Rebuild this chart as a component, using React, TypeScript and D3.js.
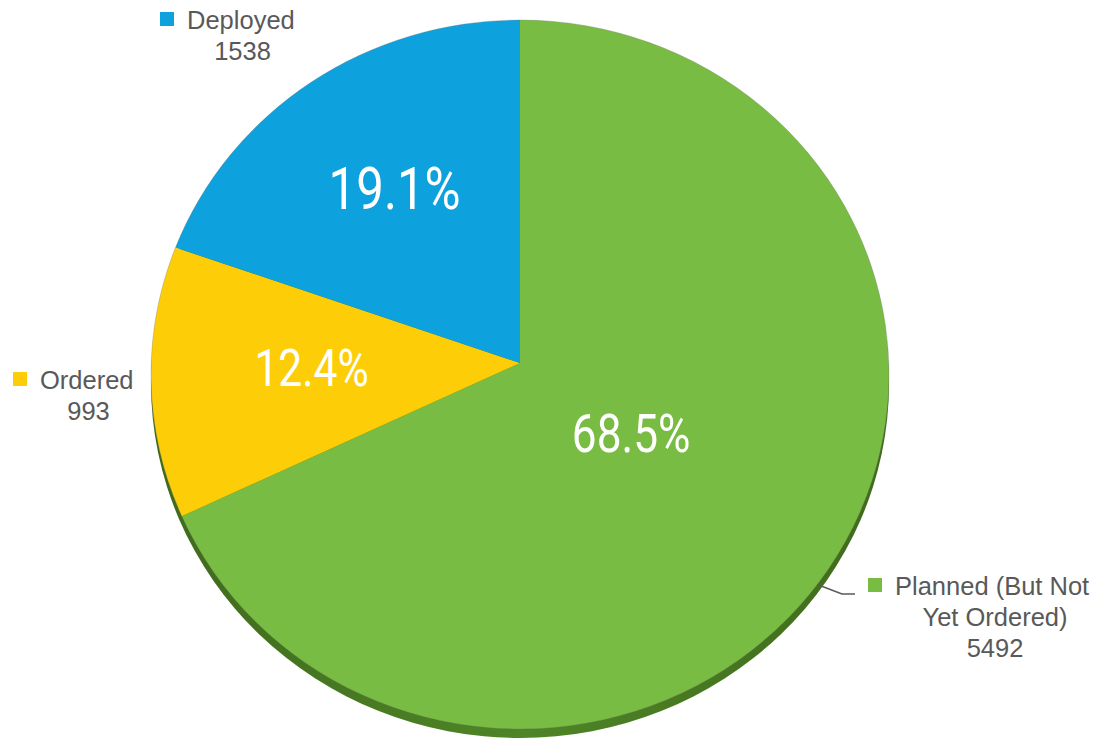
import React from "react";
import * as d3 from "d3";

const categories = ["Planned (But Not Yet Ordered)", "Ordered", "Deployed"];
const labelLines = [["Planned (But Not", "Yet Ordered)"], ["Ordered"], ["Deployed"]];
const counts = [5492, 993, 1538];
const percentLabels = ["68.5%", "12.4%", "19.1%"];
const colors = ["#79BC43", "#FDCD07", "#0DA2DE"];

const W = 1103;
const H = 743;
const apex = { x: 520, y: 363 };
const ell = { cx: 520, cy: 374.5, rx: 369, ry: 354.5 };
const depth = 9;
const labelFrac = [0.36, 0.565, 0.6];
const labelSize = [54, 52, 60];
const legendPos = [
  { x: 868, y: 595 },
  { x: 13, y: 389 },
  { x: 160, y: 29 },
];

function rim(theta: number) {
  return [ell.cx + ell.rx * Math.sin(theta), ell.cy - ell.ry * Math.cos(theta)];
}

export default function App() {
  const pie = d3.pie<number>().sort(null).value((d) => d);
  const arcs = pie(counts);

  const wedge = (a: d3.PieArcDatum<number>) => {
    const [x0, y0] = rim(a.startAngle);
    const [x1, y1] = rim(a.endAngle);
    const large = a.endAngle - a.startAngle > Math.PI ? 1 : 0;
    return `M${apex.x},${apex.y}L${x0},${y0}A${ell.rx},${ell.ry} 0 ${large} 1 ${x1},${y1}Z`;
  };

  const sq = 14;
  const fontLegend = "'Liberation Sans', Arial, sans-serif";
  const fontPct = "Roboto, 'Liberation Sans', sans-serif";

  return (
    <svg width={W} height={H} style={{ position: "absolute", left: 0, top: 0 }}>
      <defs>
        <linearGradient id="side" x1="0" x2="1" y1="0" y2="0">
          <stop offset="0" stopColor="#3f6a1c" />
          <stop offset="0.5" stopColor="#4e8526" />
          <stop offset="1" stopColor="#3f6a1c" />
        </linearGradient>
      </defs>
      <ellipse cx={ell.cx} cy={ell.cy + depth} rx={ell.rx} ry={ell.ry} fill="url(#side)" />
      {arcs.map((a, i) => (
        <path key={categories[i]} d={wedge(a)} fill={colors[i]} />
      ))}
      <ellipse cx={ell.cx} cy={ell.cy} rx={ell.rx} ry={ell.ry} fill="none" stroke="#6b6b6b" strokeOpacity={0.35} strokeWidth={0.8} />
      {arcs.map((a, i) => {
        const m = (a.startAngle + a.endAngle) / 2;
        const x = apex.x + labelFrac[i] * ell.rx * Math.sin(m);
        const y = apex.y - labelFrac[i] * ell.ry * Math.cos(m);
        return (
          <text
            key={"p" + i}
            transform={`translate(${x},${y}) scale(0.82,1)`}
            dy="0.355em"
            textAnchor="middle"
            fill="#ffffff"
            fontFamily={fontPct}
            fontSize={labelSize[i]}
          >
            {percentLabels[i]}
          </text>
        );
      })}
      {(() => {
        const [lx, ly] = rim(2.205);
        return (
          <polyline
            points={`${lx},${ly} ${legendPos[0].x - 26},${legendPos[0].y - 1} ${legendPos[0].x - 13},${legendPos[0].y - 1}`}
            fill="none"
            stroke="#595959"
            strokeWidth={1.5}
          />
        );
      })()}
      {arcs.map((a, i) => {
        const lp = legendPos[i];
        const lines = [...labelLines[i], String(counts[i])];
        const textStart = lp.x + sq + 13;
        const firstWidth = i === 0 ? 200 : i === 1 ? 97 : 111;
        const cxText = textStart + firstWidth / 2;
        return (
          <g key={"l" + i}>
            <rect x={lp.x} y={lp.y - 17} width={sq} height={sq} fill={colors[i]} />
            {lines.map((ln, j) => (
              <text
                key={j}
                x={j === 0 ? textStart : cxText}
                y={lp.y + j * 31}
                textAnchor={j === 0 ? "start" : "middle"}
                fill="#595959"
                fontFamily={fontLegend}
                fontSize={25.5}
              >
                {ln}
              </text>
            ))}
          </g>
        );
      })}
    </svg>
  );
}
